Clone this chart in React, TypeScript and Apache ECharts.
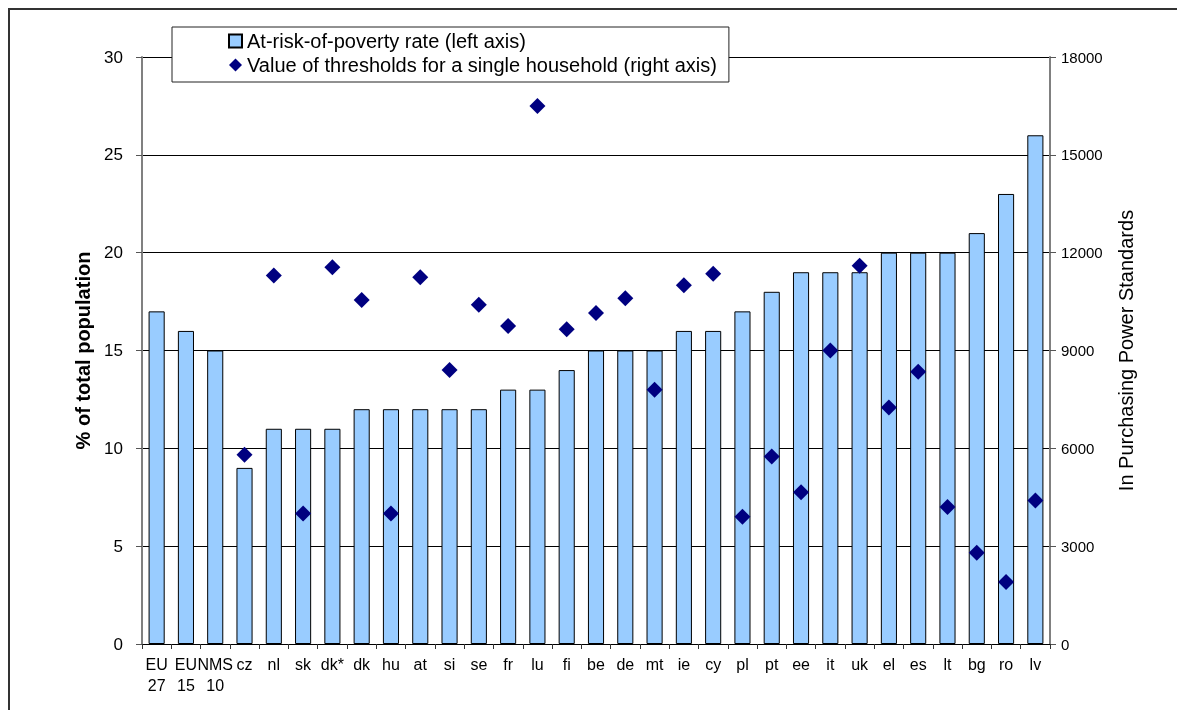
import React, { useEffect, useRef } from "react";
import * as echarts from "echarts";

const categories = [
  "EU\n27", "EU\n15", "NMS\n10", "cz", "nl", "sk", "dk*", "dk", "hu", "at", "si",
  "se", "fr", "lu", "fi", "be", "de", "mt", "ie", "cy", "pl", "pt", "ee", "it",
  "uk", "el", "es", "lt", "bg", "ro", "lv",
];
const povertyRate = [
  17, 16, 15, 9, 11, 11, 11, 12, 12, 12, 12, 12, 13, 13, 14, 15, 15, 15, 16, 16,
  17, 18, 19, 19, 19, 20, 20, 20, 21, 23, 26,
];
const thresholds: (number | string)[] = [
  "-", "-", "-", 5800, 11300, 4000, 11550, 10550, 4000, 11250, 8400, 10400, 9750,
  16500, 9650, 10150, 10600, 7800, 11000, 11350, 3900, 5750, 4650, 9000, 11600,
  7250, 8350, 4200, 2800, 1900, 4400,
];
const leftTicks = { min: 0, max: 30, interval: 5 };
const rightTicks = { min: 0, max: 18000, interval: 3000 };
const barName = "At-risk-of-poverty rate (left axis)";
const scatterName = "Value of thresholds for a single household (right axis)";
const leftTitle = "% of total population";
const rightTitle = "In Purchasing Power Standards";

const FONT = "'Liberation Sans', Arial, sans-serif";

export default function App() {
  const ref = useRef<HTMLDivElement>(null);
  useEffect(() => {
    if (!ref.current) return;
    const chart = echarts.init(ref.current, null, { renderer: "svg" });
    chart.setOption({
      animation: false,
      textStyle: { fontFamily: FONT },
      graphic: [
        {
          type: "rect",
          shape: { x: 1, y: 1, width: 1400, height: 900 },
          style: { fill: "none", stroke: "#333", lineWidth: 2 },
          silent: true,
          z: -1,
        },
      ],
      legend: {
        orient: "vertical",
        left: 164,
        top: 19,
        data: [{ name: barName, icon: "rect" }, { name: scatterName, icon: "diamond" }],
        itemWidth: 13,
        itemHeight: 13,
        itemGap: 4,
        padding: [4, 12, 7, 56],
        backgroundColor: "#fff",
        borderColor: "#222",
        borderWidth: 1,
        textStyle: { fontSize: 20, color: "#000", fontFamily: FONT },
        z: 10,
      },
      grid: { left: 134, right: 127, top: 49, bottom: 66, containLabel: false },
      xAxis: {
        type: "category",
        data: categories,
        axisLine: { lineStyle: { color: "#000", width: 1 } },
        axisTick: { show: true, length: 5, lineStyle: { color: "#333" } },
        axisLabel: {
          interval: 0,
          fontSize: 16,
          color: "#000",
          margin: 10,
          lineHeight: 21,
          fontFamily: FONT,
        },
      },
      yAxis: [
        {
          type: "value",
          ...leftTicks,
          position: "left",
          name: leftTitle,
          nameLocation: "middle",
          nameRotate: 90,
          nameGap: 42,
          nameTextStyle: { fontSize: 20, fontWeight: "bold", color: "#000", fontFamily: FONT },
          axisLine: { show: true, lineStyle: { color: "#808080", width: 2 } },
          axisTick: { show: true, length: 6, lineStyle: { color: "#555" } },
          axisLabel: { fontSize: 17, color: "#000", margin: 19, fontFamily: FONT },
          splitLine: { show: true, lineStyle: { color: "#000", width: 1 } },
        },
        {
          type: "value",
          ...rightTicks,
          position: "right",
          name: rightTitle,
          nameLocation: "middle",
          nameRotate: 90,
          nameGap: 66,
          nameTextStyle: { fontSize: 20, color: "#000", fontFamily: FONT },
          axisLine: { show: true, lineStyle: { color: "#808080", width: 2 } },
          axisTick: { show: true, length: 6, lineStyle: { color: "#555" } },
          axisLabel: {
            fontSize: 15,
            color: "#000",
            margin: 11,
            fontFamily: FONT,
            formatter: (v: number) => String(v),
          },
          splitLine: { show: false },
        },
      ],
      series: [
        {
          name: barName,
          type: "bar",
          yAxisIndex: 0,
          data: povertyRate,
          barCategoryGap: "45%",
          itemStyle: { color: "#99CCFF", borderColor: "#000", borderWidth: 1 },
        },
        {
          name: scatterName,
          type: "scatter",
          yAxisIndex: 1,
          data: thresholds,
          symbol: "diamond",
          symbolSize: [16, 16],
          itemStyle: { color: "#000080", opacity: 1 },
          z: 5,
        },
      ],
    });
    return () => chart.dispose();
  }, []);
  return (
    <div
      ref={ref}
      style={{ position: "fixed", left: 8, top: 8, width: 1169, height: 702 }}
    />
  );
}
